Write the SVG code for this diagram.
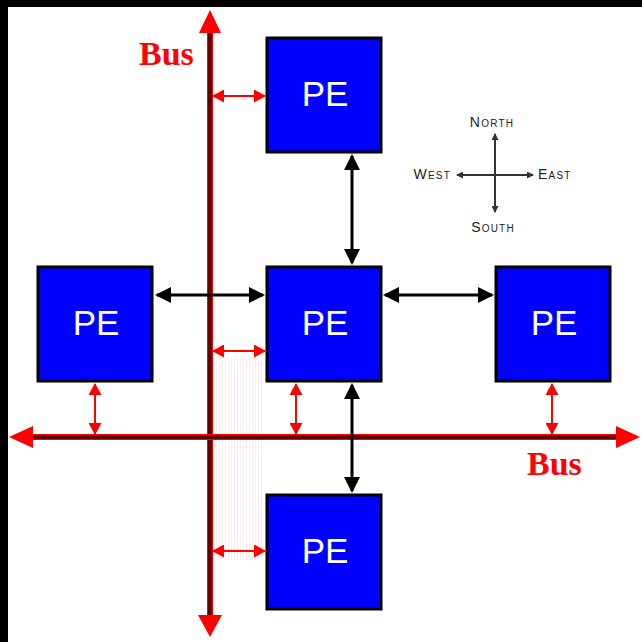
<svg xmlns="http://www.w3.org/2000/svg" width="642" height="642" viewBox="0 0 642 642">
<style>
.pe rect{fill:#0000ff;stroke:#000;stroke-width:3}
.pe text{fill:#fff;font-family:"Liberation Sans",Arial,sans-serif;font-size:35px;text-anchor:middle}
.bus{font-family:"Liberation Serif","Times New Roman",serif;font-weight:bold;font-size:34px;fill:#ff0000}
.blk{stroke:#000;stroke-width:3;fill:none;marker-start:url(#ab);marker-end:url(#ab)}
.red{stroke:#ff0000;stroke-width:2;fill:none;marker-start:url(#ar);marker-end:url(#ar)}
.cmp{stroke:#333;stroke-width:2;fill:none;marker-start:url(#ac);marker-end:url(#ac)}
.cl{font-family:"Liberation Sans",Arial,sans-serif;font-size:14px;font-variant:small-caps;fill:#222;letter-spacing:1.2px}
</style>
<defs>
<marker id="ab" markerUnits="userSpaceOnUse" markerWidth="16" markerHeight="16" viewBox="0 0 16 16" refX="14" refY="8" orient="auto-start-reverse"><path d="M0,0L16,8L0,16z" fill="#000"/></marker>
<marker id="ar" markerUnits="userSpaceOnUse" markerWidth="12" markerHeight="13" viewBox="0 0 12 13" refX="11" refY="6.5" orient="auto-start-reverse"><path d="M0,0L12,6.5L0,13z" fill="#ff0000"/></marker>
<marker id="ac" markerUnits="userSpaceOnUse" markerWidth="7" markerHeight="7" viewBox="0 0 7 7" refX="6" refY="3.5" orient="auto-start-reverse"><path d="M0,0L7,3.5L0,7z" fill="#333"/></marker>
<pattern id="stripes" patternUnits="userSpaceOnUse" width="3" height="10"><rect x="0" y="0" width="1" height="10" fill="#ffd6d6"/></pattern>
</defs>
<rect width="642" height="642" fill="#fff"/>
<rect x="0" y="0" width="642" height="7" fill="#000"/>
<rect x="0" y="0" width="8" height="642" fill="#000"/>
<rect x="213" y="357" width="49" height="203" fill="url(#stripes)" opacity="0.5"/>
<g id="buses">
<line x1="210" y1="30" x2="210" y2="617" stroke="#ff0000" stroke-width="6"/>
<line x1="210" y1="30" x2="210" y2="617" stroke="#660000" stroke-width="4"/>
<line x1="30" y1="437" x2="620" y2="437" stroke="#ff0000" stroke-width="6"/>
<line x1="30" y1="437" x2="620" y2="437" stroke="#660000" stroke-width="4"/>
<path d="M210,10L221,33L199,33z M210,637L222,615L198,615z M9,437L33,426L33,448z M640,437L616,426L616,448z" fill="#ff0000"/>
<text class="bus" x="139" y="65">Bus</text>
<text class="bus" x="527" y="475">Bus</text>
</g>
<g id="pe-top" class="pe"><rect x="267" y="38" width="114" height="114"/><text x="325" y="106">PE</text></g>
<g id="pe-center" class="pe"><rect x="267" y="267" width="114" height="114"/><text x="325" y="335">PE</text></g>
<g id="pe-left" class="pe"><rect x="38" y="267" width="114" height="114"/><text x="96" y="335">PE</text></g>
<g id="pe-right" class="pe"><rect x="496" y="267" width="114" height="114"/><text x="554" y="335">PE</text></g>
<g id="pe-bottom" class="pe"><rect x="267" y="495" width="114" height="114"/><text x="325" y="563">PE</text></g>
<g id="connectors">
<line class="blk" x1="352" y1="156" x2="352" y2="263"/>
<line class="blk" x1="157" y1="295" x2="263" y2="295"/>
<line class="blk" x1="385" y1="295" x2="492" y2="295"/>
<line class="blk" x1="352" y1="385" x2="352" y2="491"/>
<line class="red" x1="213" y1="96" x2="265" y2="96"/>
<line class="red" x1="213" y1="351" x2="265" y2="351"/>
<line class="red" x1="213" y1="551" x2="265" y2="551"/>
<line class="red" x1="95" y1="384" x2="95" y2="434"/>
<line class="red" x1="296" y1="384" x2="296" y2="434"/>
<line class="red" x1="552" y1="384" x2="552" y2="434"/>
</g>
<g id="compass">
<line class="cmp" x1="495" y1="134" x2="495" y2="212"/>
<line class="cmp" x1="457" y1="175" x2="533" y2="175"/>
<text class="cl" x="492" y="127" text-anchor="middle">North</text>
<text class="cl" x="493" y="232" text-anchor="middle">South</text>
<text class="cl" x="451" y="179" text-anchor="end">West</text>
<text class="cl" x="538" y="179">East</text>
</g>
</svg>
